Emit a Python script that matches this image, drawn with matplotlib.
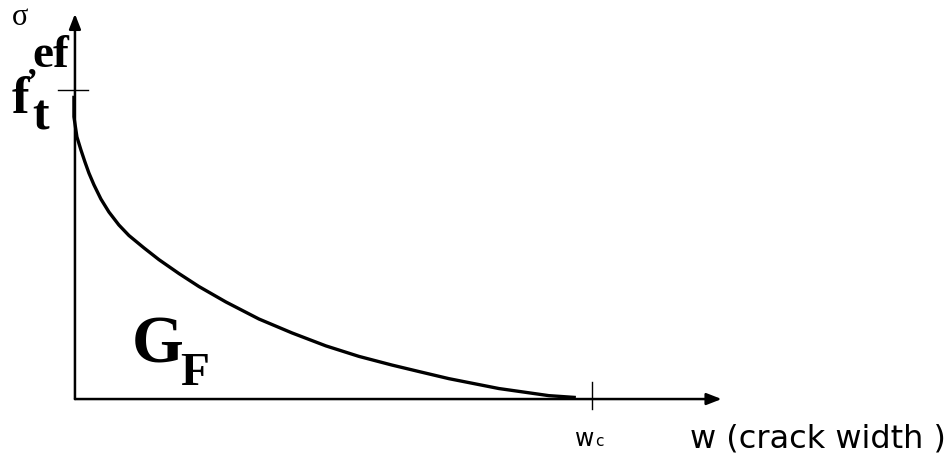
import numpy as np
import matplotlib
matplotlib.use("Agg")
import matplotlib.pyplot as plt

# softening curve, w / wc and sigma / ft
w = [0.0, 0.0, 0.0058, 0.0135, 0.0213, 0.0290, 0.0387, 0.0522, 0.0677,
     0.0870, 0.1064, 0.1354, 0.1644, 0.2031, 0.2418, 0.2940, 0.3578,
     0.4217, 0.4874, 0.5513, 0.6151, 0.6673, 0.7253, 0.8221, 0.9188, 0.971]
sigma = [0.981, 0.913, 0.848, 0.806, 0.767, 0.731, 0.693, 0.647, 0.605,
         0.563, 0.529, 0.489, 0.451, 0.406, 0.364, 0.314, 0.259,
         0.214, 0.172, 0.138, 0.110, 0.089, 0.066, 0.034, 0.011, 0.005]
wc = 1.0
ft = 1.0

fig = plt.figure(figsize=(9.47, 4.56), dpi=100)
ax = fig.add_axes([0, 0, 1, 1])
ax.set_xlim(-0.145, 1.687)
ax.set_ylim(-0.181, 1.294)
ax.axis("off")

# axes with arrows
arr = dict(arrowstyle="-|>,head_length=0.9,head_width=0.35", color="black",
           lw=1.8, shrinkA=0, shrinkB=0)
ax.annotate("", xy=(1.251, 0), xytext=(0, 0), arrowprops=arr)
ax.annotate("", xy=(0, 1.246), xytext=(0, 0), arrowprops=arr)

# ticks at ft and wc
ax.plot([-0.033, 0.025], [ft, ft], color="black", lw=1.0)
ax.plot([wc, wc], [-0.032, 0.055], color="black", lw=1.0)

# curve
ax.plot(np.array(w) - 0.002, sigma, color="black", lw=2.4,
        solid_capstyle="butt", solid_joinstyle="round")

serif = "Liberation Serif"
sans = "DejaVu Sans"
ax.text(-0.122, 1.214, "σ", family=serif, fontsize=22, va="baseline", ha="left")
ax.text(-0.123, 0.930, "f", family=serif, weight="bold", fontsize=38,
        va="baseline", ha="left")
ax.text(-0.083, 0.874, "t", family=serif, weight="bold", fontsize=36,
        va="baseline", ha="left")
ax.text(-0.095, 0.995, "’", family=serif, weight="bold", fontsize=26,
        va="baseline", ha="left")
ax.text(-0.083, 1.078, "ef", family=serif, weight="bold", fontsize=34,
        va="baseline", ha="left")

ax.text(0.110, 0.123, "G", family=serif, weight="bold", fontsize=48,
        va="baseline", ha="left")
ax.text(0.203, 0.050, "F", family=serif, weight="bold", fontsize=34,
        va="baseline", ha="left")

ax.text(0.967, -0.148, "w", family=sans, fontsize=17, va="baseline", ha="left")
ax.text(1.006, -0.148, "c", family=sans, fontsize=11, va="baseline", ha="left")
ax.text(1.190, -0.152, "w (crack width )", family=sans, fontsize=23,
        va="baseline", ha="left")

fig.savefig("out.png", dpi=100)
